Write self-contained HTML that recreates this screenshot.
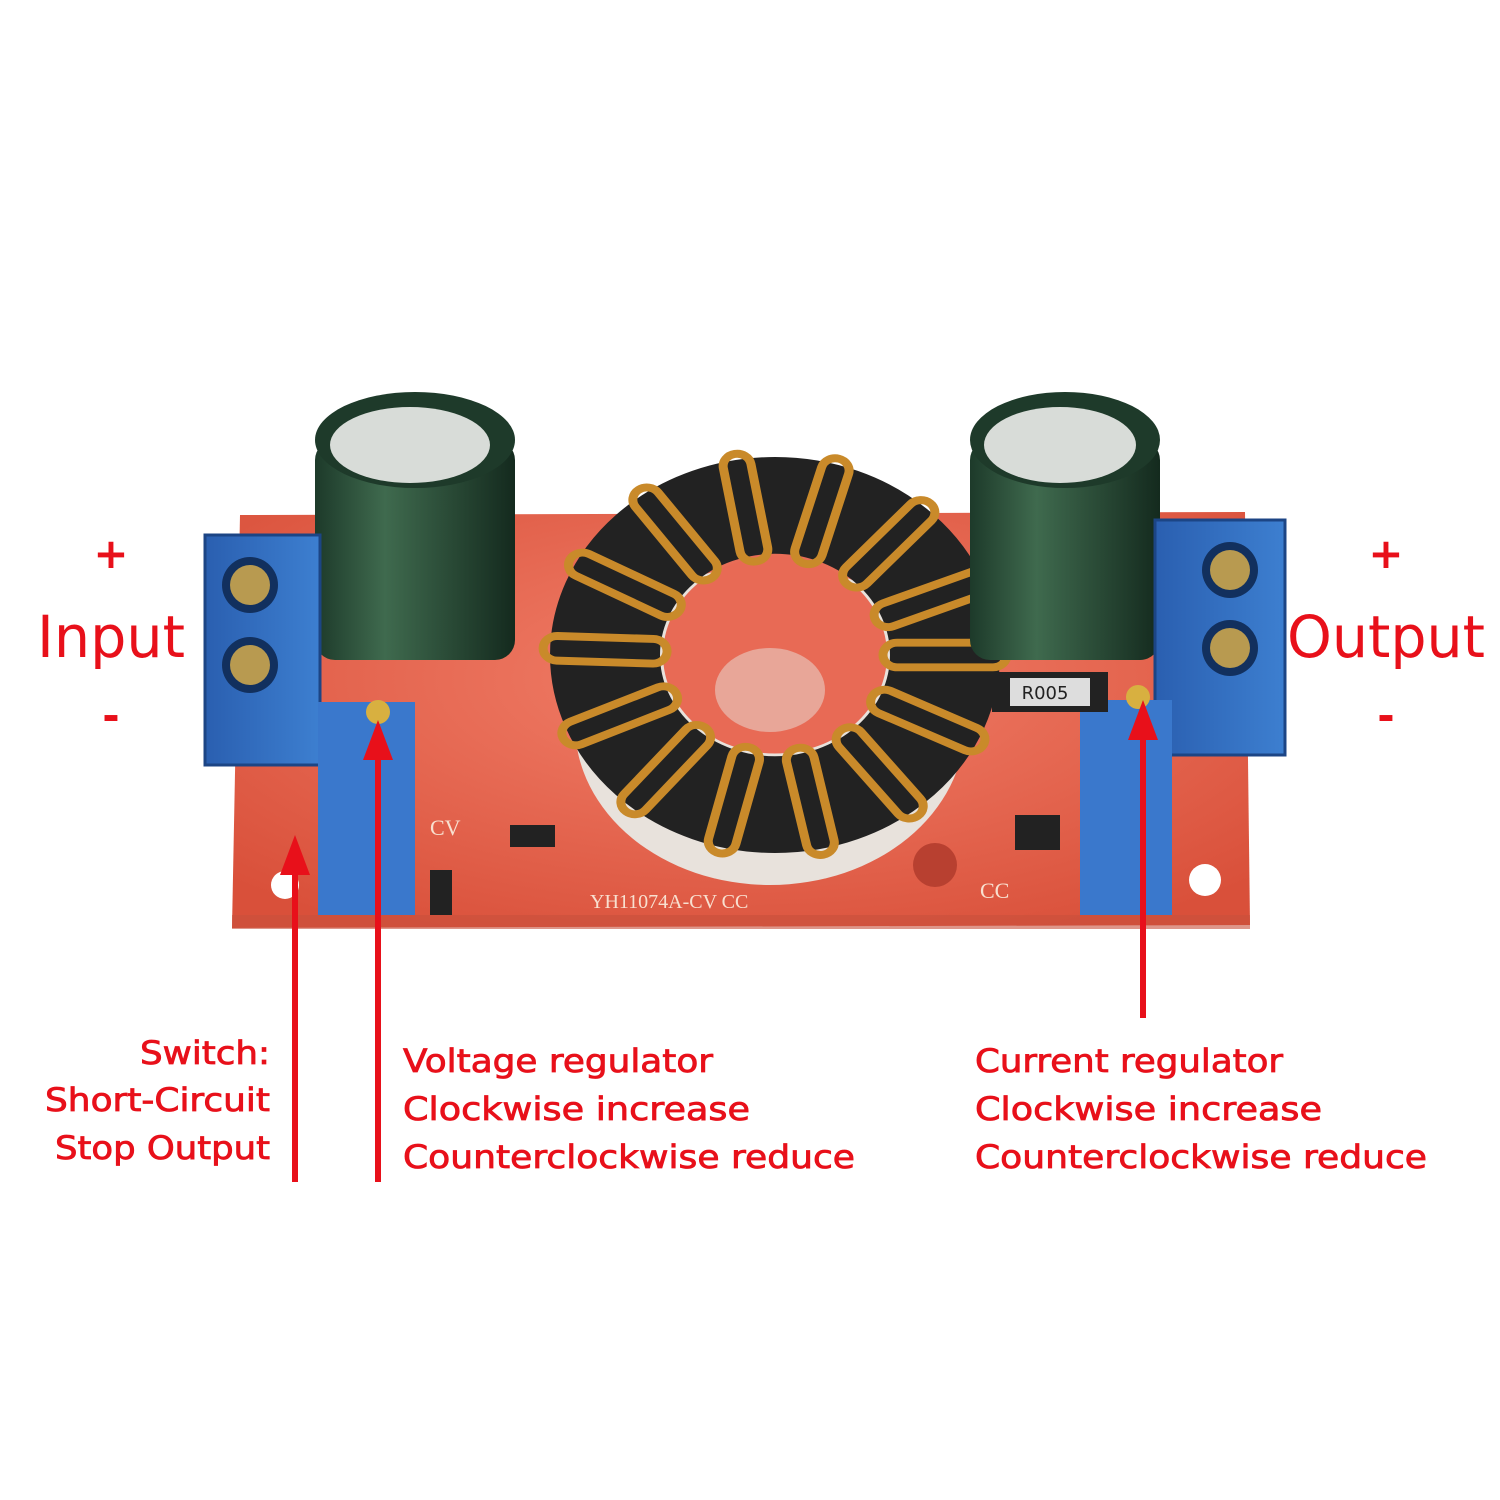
<!DOCTYPE html>
<html><head><meta charset="utf-8"><style>
html,body{margin:0;padding:0;background:#fff;}
svg{display:block}
text{font-family:"DejaVu Sans","Liberation Sans",sans-serif;fill:#e8101a}
</style></head><body>
<svg width="1500" height="1500" viewBox="0 0 1500 1500" xmlns="http://www.w3.org/2000/svg">
<defs>
<radialGradient id="pcb" cx="50%" cy="40%" r="70%"><stop offset="0" stop-color="#f2806a"/><stop offset="1" stop-color="#d9503a"/></radialGradient>
<linearGradient id="cap" x1="0" x2="1"><stop offset="0" stop-color="#1d3a2a"/><stop offset="0.35" stop-color="#3f6a4e"/><stop offset="1" stop-color="#142a1e"/></linearGradient>
<linearGradient id="blue" x1="0" x2="1"><stop offset="0" stop-color="#2a5fb0"/><stop offset="1" stop-color="#3d7fd0"/></linearGradient>
<g id="w"><rect x="108" y="-14" width="124" height="28" rx="14" fill="none" stroke="#c98a2a" stroke-width="9"/></g>
</defs>
<path d="M240 515 L1245 512 L1250 925 L232 928 Z" fill="url(#pcb)"/>
<rect x="232" y="915" width="1018" height="14" fill="#c8503c" opacity="0.6"/>
<circle cx="285" cy="885" r="14" fill="#fff"/>
<circle cx="1205" cy="880" r="16" fill="#fff"/>
<circle cx="935" cy="865" r="22" fill="#b84030"/>
<ellipse cx="770" cy="725" rx="195" ry="160" fill="#e8e2dc"/>
<g transform="translate(775,655) scale(1,0.88)">
<circle r="170" fill="none" stroke="#222" stroke-width="110"/>
<circle r="112" fill="#e86a55"/>
<g transform="rotate(0)"><use href="#w"/></g>
<g transform="rotate(26)"><use href="#w"/></g>
<g transform="rotate(52)"><use href="#w"/></g>
<g transform="rotate(78)"><use href="#w"/></g>
<g transform="rotate(104)"><use href="#w"/></g>
<g transform="rotate(130)"><use href="#w"/></g>
<g transform="rotate(156)"><use href="#w"/></g>
<g transform="rotate(182)"><use href="#w"/></g>
<g transform="rotate(208)"><use href="#w"/></g>
<g transform="rotate(234)"><use href="#w"/></g>
<g transform="rotate(260)"><use href="#w"/></g>
<g transform="rotate(286)"><use href="#w"/></g>
<g transform="rotate(312)"><use href="#w"/></g>
<g transform="rotate(338)"><use href="#w"/></g>
</g>
<ellipse cx="770" cy="690" rx="55" ry="42" fill="#e8e2dc" opacity="0.5"/>
<rect x="315" y="440" width="200" height="220" rx="20" fill="url(#cap)"/>
<ellipse cx="415" cy="440" rx="100" ry="48" fill="#1e3a2a"/>
<ellipse cx="410" cy="445" rx="80" ry="38" fill="#d8dcd8"/>
<rect x="970" y="440" width="190" height="220" rx="20" fill="url(#cap)"/>
<ellipse cx="1065" cy="440" rx="95" ry="48" fill="#1e3a2a"/>
<ellipse cx="1060" cy="445" rx="76" ry="38" fill="#d8dcd8"/>
<rect x="205" y="535" width="115" height="230" fill="url(#blue)"/>
<rect x="205" y="535" width="115" height="230" fill="none" stroke="#1c4585" stroke-width="3"/>
<circle cx="250" cy="585" r="28" fill="#12305e"/><circle cx="250" cy="585" r="20" fill="#b89a50"/>
<circle cx="250" cy="665" r="28" fill="#12305e"/><circle cx="250" cy="665" r="20" fill="#b89a50"/>
<rect x="1155" y="520" width="130" height="235" fill="url(#blue)"/>
<rect x="1155" y="520" width="130" height="235" fill="none" stroke="#1c4585" stroke-width="3"/>
<circle cx="1230" cy="570" r="28" fill="#12305e"/><circle cx="1230" cy="570" r="20" fill="#b89a50"/>
<circle cx="1230" cy="648" r="28" fill="#12305e"/><circle cx="1230" cy="648" r="20" fill="#b89a50"/>
<rect x="318" y="702" width="97" height="213" fill="#3a78cc"/>
<circle cx="378" cy="712" r="12" fill="#d8b040"/>
<rect x="1080" y="700" width="92" height="215" fill="#3a78cc"/>
<circle cx="1138" cy="697" r="12" fill="#d8b040"/>
<rect x="992" y="672" width="116" height="40" fill="#222"/><rect x="1010" y="678" width="80" height="28" fill="#ddd"/>
<text x="1045" y="699" font-size="18" style="fill:#222" text-anchor="middle">R005</text>
<rect x="1015" y="815" width="45" height="35" fill="#222"/>
<rect x="510" y="825" width="45" height="22" fill="#222"/>
<rect x="430" y="870" width="22" height="45" fill="#222"/>
<text x="590" y="908" font-size="20" style="fill:#f8e0d0;font-family:'Liberation Serif',serif">YH11074A-CV CC</text>
<text x="430" y="835" font-size="22" style="fill:#f8e0d0;font-family:'Liberation Serif',serif">CV</text>
<text x="980" y="898" font-size="22" style="fill:#f8e0d0;font-family:'Liberation Serif',serif">CC</text>
<g fill="#e8101a">
<rect x="292" y="870" width="6" height="312"/><polygon points="295,835 280,875 310,875"/>
<rect x="375" y="755" width="6" height="427"/><polygon points="378,720 363,760 393,760"/>
<rect x="1140" y="735" width="6" height="283"/><polygon points="1143,700 1128,740 1158,740"/>
</g>
<text x="111" y="568" font-size="42" font-weight="bold" text-anchor="middle">+</text>
<text x="37" y="657" font-size="58" textLength="148" lengthAdjust="spacingAndGlyphs">Input</text>
<text x="111" y="730" font-size="42" font-weight="bold" text-anchor="middle">-</text>
<text x="1386" y="568" font-size="42" font-weight="bold" text-anchor="middle">+</text>
<text x="1287" y="657" font-size="58" textLength="198" lengthAdjust="spacingAndGlyphs">Output</text>
<text x="1386" y="730" font-size="42" font-weight="bold" text-anchor="middle">-</text>
<g font-size="32" stroke="#e8101a" stroke-width="0.8">
<text x="140" y="1064" textLength="130" lengthAdjust="spacingAndGlyphs">Switch:</text>
<text x="45" y="1111" textLength="225" lengthAdjust="spacingAndGlyphs">Short-Circuit</text>
<text x="55" y="1159" textLength="215" lengthAdjust="spacingAndGlyphs">Stop Output</text>
<text x="403" y="1072" textLength="310" lengthAdjust="spacingAndGlyphs">Voltage regulator</text>
<text x="403" y="1120" textLength="347" lengthAdjust="spacingAndGlyphs">Clockwise increase</text>
<text x="403" y="1168" textLength="452" lengthAdjust="spacingAndGlyphs">Counterclockwise reduce</text>
<text x="975" y="1072" textLength="308" lengthAdjust="spacingAndGlyphs">Current regulator</text>
<text x="975" y="1120" textLength="347" lengthAdjust="spacingAndGlyphs">Clockwise increase</text>
<text x="975" y="1168" textLength="452" lengthAdjust="spacingAndGlyphs">Counterclockwise reduce</text>
</g>
</svg>
</body></html>
